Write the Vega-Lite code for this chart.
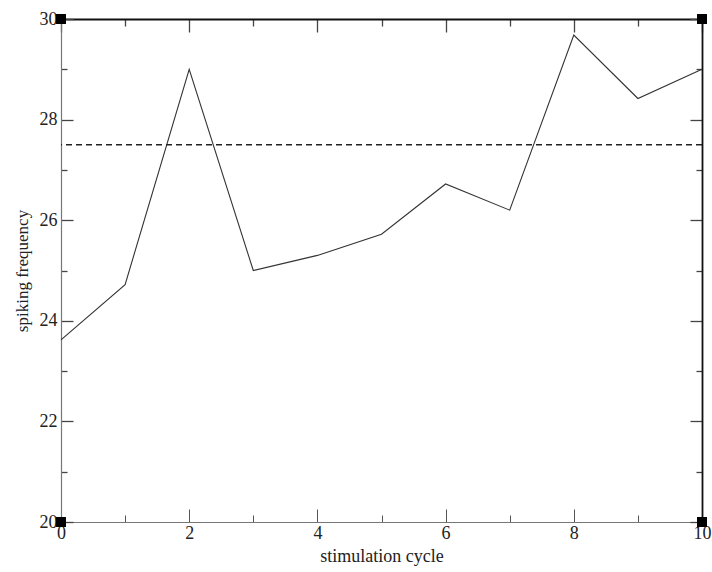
{
  "$schema": "https://vega.github.io/schema/vega-lite/v6.json",
  "width": 641,
  "height": 503,
  "autosize": "none",
  "padding": {"left": 61, "top": 19, "right": 10, "bottom": 50},
  "background": "white",
  "config": {
    "view": {"stroke": null},
    "font": "Liberation Serif",
    "axis": {"labelFont": "Liberation Serif", "titleFont": "Liberation Serif", "titleFontWeight": "normal", "labelColor": "#222", "titleColor": "#222", "grid": false}
  },
  "datasets": {
    "series": [
      {"cycle": 0, "freq": 23.62},
      {"cycle": 1, "freq": 24.72},
      {"cycle": 2, "freq": 29.0},
      {"cycle": 3, "freq": 25.0},
      {"cycle": 4, "freq": 25.3},
      {"cycle": 5, "freq": 25.72},
      {"cycle": 6, "freq": 26.72},
      {"cycle": 7, "freq": 26.2},
      {"cycle": 8, "freq": 29.68},
      {"cycle": 9, "freq": 28.42},
      {"cycle": 10, "freq": 29.0}
    ],
    "corners": [
      {"cycle": 0, "freq": 20},
      {"cycle": 0, "freq": 30},
      {"cycle": 10, "freq": 20},
      {"cycle": 10, "freq": 30}
    ],
    "threshold": [{"level": 27.5}]
  },
  "resolve": {"axis": {"x": "independent", "y": "independent"}},
  "layer": [
    {
      "data": {"name": "series"},
      "mark": {"type": "line", "color": "#333", "strokeWidth": 1.1},
      "encoding": {
        "x": {
          "field": "cycle", "type": "quantitative",
          "scale": {"domain": [0, 10], "nice": false, "zero": false},
          "axis": {
            "orient": "bottom", "title": "stimulation cycle", "titleFontSize": 18, "titlePadding": 5,
            "values": [0,1,2,3,4,5,6,7,8,9,10],
            "labelExpr": "datum.value % 2 === 0 ? datum.label : ''",
            "labelFontSize": 18, "labelPadding": 15, "labelFlush": false,
            "domainColor": "#777", "domainWidth": 1.2,
            "tickColor": "#555", "tickWidth": 1,
            "tickSize": {"condition": {"test": "datum.value % 2 === 0", "value": -13}, "value": -7}
          }
        },
        "y": {
          "field": "freq", "type": "quantitative",
          "scale": {"domain": [20, 30], "nice": false, "zero": false},
          "axis": {
            "orient": "left", "title": "spiking frequency", "titleFontSize": 17, "titlePadding": 8,
            "values": [20,21,22,23,24,25,26,27,28,29,30],
            "labelExpr": "datum.value % 2 === 0 ? datum.label : ''",
            "labelFontSize": 18, "labelPadding": 16, "labelFlush": false,
            "domainColor": "#777", "domainWidth": 1.2,
            "tickColor": "#444", "tickWidth": 1.3,
            "tickSize": {"condition": {"test": "datum.value % 2 === 0", "value": -12}, "value": -6}
          }
        }
      }
    },
    {
      "data": {"name": "threshold"},
      "mark": {"type": "rule", "color": "#222", "strokeWidth": 1.3, "strokeDash": [6, 4]},
      "encoding": {
        "y": {
          "field": "level", "type": "quantitative",
          "axis": {
            "orient": "right", "title": null, "labels": false,
            "values": [20,21,22,23,24,25,26,27,28,29,30],
            "domainColor": "#111", "domainWidth": 1.8,
            "tickColor": "#444", "tickWidth": 1.3,
            "tickSize": {"condition": {"test": "datum.value % 2 === 0", "value": -12}, "value": -6}
          }
        }
      }
    },
    {
      "data": {"name": "corners"},
      "mark": {"type": "point", "shape": "square", "filled": true, "color": "black", "size": 100, "opacity": 1},
      "encoding": {
        "x": {
          "field": "cycle", "type": "quantitative",
          "axis": {
            "orient": "top", "title": null, "labels": false,
            "values": [0,1,2,3,4,5,6,7,8,9,10],
            "domainColor": "#111", "domainWidth": 1.8,
            "tickColor": "#444", "tickWidth": 1.3,
            "tickSize": {"condition": {"test": "datum.value % 2 === 0", "value": -13}, "value": -7}
          }
        },
        "y": {"field": "freq", "type": "quantitative", "axis": null}
      }
    }
  ]
}
